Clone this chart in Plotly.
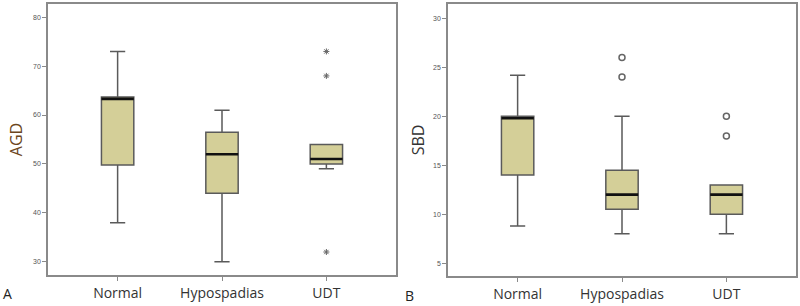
import plotly.graph_objects as go

categories = ["Normal", "Hypospadias", "UDT"]

# Panel A: AGD
agd_lower = [38, 30, 49]
agd_q1 = [49.8, 44, 50]
agd_median = [63.3, 52, 51]
agd_q3 = [63.7, 56.5, 54]
agd_upper = [73, 61, 54]
agd_out_x = ["UDT", "UDT", "UDT"]
agd_out_y = [73, 68, 32]
agd_ticks = [30, 40, 50, 60, 70, 80]

# Panel B: SBD
sbd_lower = [8.8, 8, 8]
sbd_q1 = [14, 10.5, 10]
sbd_median = [19.8, 12, 12]
sbd_q3 = [20, 14.5, 13]
sbd_upper = [24.2, 20, 13]
sbd_out_x = ["Hypospadias", "Hypospadias", "UDT", "UDT"]
sbd_out_y = [26, 24, 20, 18]
sbd_ticks = [5, 10, 15, 20, 25, 30]

BOX_FILL = "#D4CF98"
BOX_LINE = "#5a5a5a"
FRAME = "#8a8a8a"

fig = go.Figure()

def add_panel(xa, ya, lower, q1, med, q3, upper, ox, oy, symbol):
    fig.add_trace(go.Box(
        x=categories, q1=q1, median=med, q3=q3,
        lowerfence=lower, upperfence=upper,
        fillcolor=BOX_FILL, line=dict(color=BOX_LINE, width=1.5),
        width=0.31, whiskerwidth=0.47, boxpoints=False,
        xaxis=xa, yaxis=ya, showlegend=False, hoverinfo="skip"))
    fig.add_trace(go.Box(
        x=categories, q1=med, median=med, q3=med,
        lowerfence=med, upperfence=med,
        fillcolor="rgba(0,0,0,0)", line=dict(color="#111111", width=2.6),
        width=0.31, whiskerwidth=0, boxpoints=False,
        xaxis=xa, yaxis=ya, showlegend=False, hoverinfo="skip"))
    is_circle = symbol.startswith("circle")
    fig.add_trace(go.Scatter(
        x=ox, y=oy, mode="markers",
        marker=dict(symbol=symbol, size=6 if is_circle else 5,
                    color="#666666",
                    line=dict(color="#666666", width=1.5 if is_circle else 1)),
        xaxis=xa, yaxis=ya, showlegend=False, hoverinfo="skip"))

add_panel("x", "y", agd_lower, agd_q1, agd_median, agd_q3, agd_upper,
          agd_out_x, agd_out_y, "asterisk-open")
add_panel("x2", "y2", sbd_lower, sbd_q1, sbd_median, sbd_q3, sbd_upper,
          sbd_out_x, sbd_out_y, "circle-open")

xcommon = dict(type="category", range=[-0.667, 2.667], showgrid=False,
               showline=True, linecolor=FRAME, linewidth=1.5, mirror=True,
               ticks="outside", ticklen=4, tickcolor=FRAME, tickwidth=1,
               tickfont=dict(family="Open Sans, Arial", size=14, color="#333333"),
               zeroline=False)
ycommon = dict(showgrid=False, showline=True, linecolor=FRAME, linewidth=1.5,
               mirror=True, ticks="outside", ticklen=4, tickcolor=FRAME,
               tickwidth=1, tickfont=dict(family="Arial", size=7, color="#555555"),
               zeroline=False)

fig.update_layout(
    width=800, height=306,
    margin=dict(l=0, r=0, t=0, b=0),
    plot_bgcolor="white", paper_bgcolor="white",
    boxmode="overlay",
    xaxis=dict(domain=[48/800, 396/800], anchor="y", **xcommon),
    xaxis2=dict(domain=[448/800, 796/800], anchor="y2", **xcommon),
    yaxis=dict(domain=[1-275/306, 1-4/306], anchor="x", range=[27.3, 82.7],
               tickvals=agd_ticks,
               title=dict(text="AGD", standoff=6,
                          font=dict(family="Open Sans, Arial", size=16, color="#6b4520")),
               **ycommon),
    yaxis2=dict(domain=[1-276/306, 1-4/306], anchor="x2", range=[3.7, 31.46],
                tickvals=sbd_ticks,
                title=dict(text="SBD", standoff=4,
                           font=dict(family="Open Sans, Arial", size=16, color="#333333")),
                **ycommon),
    annotations=[
        dict(text="A", x=7/800, y=1-293/306, xref="paper", yref="paper",
             showarrow=False, xanchor="center", yanchor="middle",
             font=dict(family="Open Sans, Arial", size=14, color="#222222")),
        dict(text="B", x=410/800, y=1-295/306, xref="paper", yref="paper",
             showarrow=False, xanchor="center", yanchor="middle",
             font=dict(family="Open Sans, Arial", size=14, color="#222222")),
    ],
)

fig.write_html("out.html", config={"displayModeBar": False},
               post_script="document.body.style.margin='0';document.body.style.overflow='hidden';")
